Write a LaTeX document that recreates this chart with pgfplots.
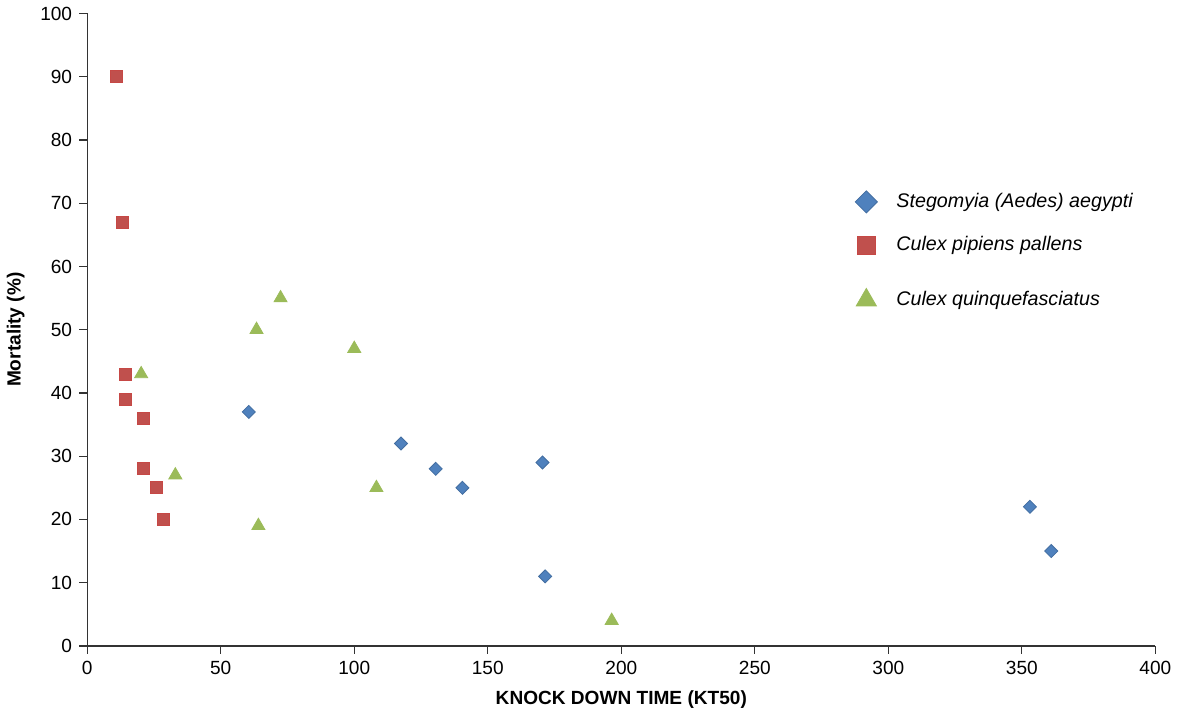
\documentclass[border=0pt]{standalone}
\usepackage{pgfplots}
\pgfplotsset{compat=1.18}
\usepackage{fontspec}
\setmainfont{Liberation Sans}
\definecolor{cblue}{HTML}{4F81BD}
\definecolor{cred}{HTML}{C0504D}
\definecolor{cgreen}{HTML}{9BBB59}
\begin{document}
\begin{tikzpicture}
\begin{axis}[
  scale only axis,
  width=532pt, height=315pt,
  xmin=0, xmax=400, ymin=0, ymax=100,
  xtick={0,50,...,400}, ytick={0,10,...,100},
  axis x line*=bottom, axis y line*=left,
  axis line style={black!80, line width=0.6pt},
  tick style={black!80, line width=0.6pt},
  tick align=outside, major tick length=4pt,
  /pgf/number format/assume math mode=true,
  ticklabel style={font=\fontsize{9.5}{11}\selectfont},
  xlabel={\bfseries KNOCK DOWN TIME (KT50)},
  ylabel={\bfseries Mortality (\%)},
  label style={font=\fontsize{9.5}{11}\selectfont},
  xlabel style={yshift=-1pt},
  ylabel style={yshift=1pt},
  legend style={draw=none, fill=none, at={(0.713,0.729)}, anchor=north west,
    font=\fontsize{9.8}{11}\selectfont\itshape, row sep=9pt,
    /tikz/every odd column/.append style={column sep=7.5pt}},
  legend cell align=left,
]
\addplot[only marks, mark=square*, mark size=2.3pt, mark options={rotate=45}, color=cblue, fill=cblue, draw=cblue!85!black,
  legend image post style={mark size=3.9pt}]
  coordinates {(60.5,37) (117.5,32) (130.5,28) (140.5,25) (170.5,29) (171.5,11) (353,22) (361,15)};
\addlegendentry{Stegomyia (Aedes) aegypti}
\addplot[only marks, mark=square*, mark size=3pt, color=cred, fill=cred, draw=cred!90!red,
  legend image post style={mark size=4.5pt}]
  coordinates {(10.9,90) (13.1,67) (14.2,43) (14.2,39) (21,36) (21,28) (25.9,25) (28.5,20)};
\addlegendentry{Culex pipiens pallens}
\addplot[only marks, mark=triangle*, mark size=3.75pt, color=cgreen, fill=cgreen, draw=cgreen,
  legend image post style={mark size=5.8pt, yshift=-3pt}]
  coordinates {(20.2,43) (33,27) (63.4,50) (72.4,55) (64.1,19) (100,47) (108.3,25) (196.4,4)};
\addlegendentry{\rule{0pt}{12.5pt}Culex quinquefasciatus}
\end{axis}
\end{tikzpicture}
\end{document}
